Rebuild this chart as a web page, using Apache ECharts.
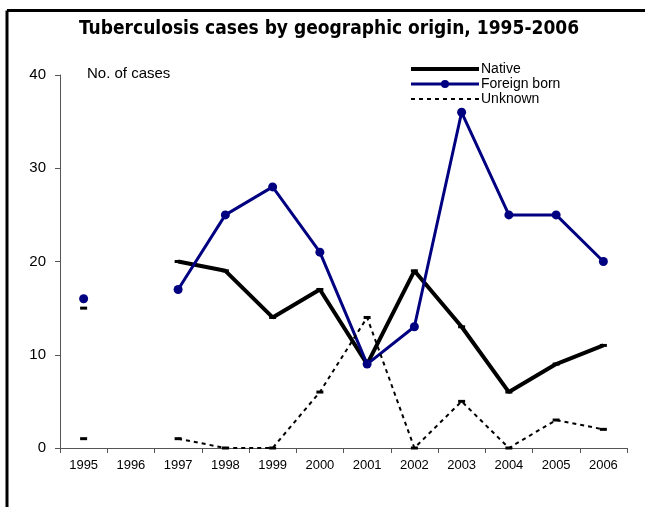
<!DOCTYPE html>
<html>
<head>
<meta charset="utf-8">
<script src="https://cdn.jsdelivr.net/npm/echarts@6/dist/echarts.min.js"></script>
<style>
  html, body { margin: 0; padding: 0; background: #fff; }
  #chart { width: 645px; height: 507px; }
</style>
</head>
<body>
<div id="chart"></div>
<script>
const years = ['1995', '1996', '1997', '1998', '1999', '2000', '2001', '2002', '2003', '2004', '2005', '2006']
const native = [15, null, 20, 19, 14, 17, 9, 19, 13, 6, 9, 11]
const foreignBorn = [16, null, 17, 25, 28, 21, 9, 13, 36, 25, 25, 20]
const unknown = [1, null, 1, 0, 0, 6, 14, 0, 5, 0, 3, 2]

const dash = 'path://M0,0 L6,0 L6,3 L0,3 Z'

var myChart = echarts.init(document.getElementById('chart'))
myChart.setOption({
  animation: false,
  title: {
    text: 'Tuberculosis cases by geographic origin, 1995-2006',
    left: 74,
    top: 15,
    textStyle: { fontFamily: 'DejaVu Sans Condensed', fontWeight: 'bold', fontSize: 19, color: '#000' },
  },
  graphic: [
    { type: 'line', shape: { x1: 7, y1: 10.5, x2: 645, y2: 10.5 }, style: { stroke: '#000', lineWidth: 3 } },
    { type: 'line', shape: { x1: 7, y1: 10.5, x2: 7, y2: 507 }, style: { stroke: '#000', lineWidth: 3 } },
    { type: 'text', left: 87, top: 66, style: { text: 'No. of cases', font: '15px "Liberation Sans"', fill: '#000' } },
  ],
  grid: { left: 60, right: 18, top: 75, bottom: 59 },
  legend: {
    orient: 'vertical',
    left: 404,
    top: 57,
    itemWidth: 68,
    itemHeight: 10,
    itemGap: 1,
    textStyle: { fontFamily: 'Liberation Sans', fontSize: 14, lineHeight: 14, color: '#000', padding: [0, 0, 0, -3] },
    data: [
      { name: 'Native', itemStyle: { opacity: 0 }, lineStyle: { width: 4 } },
      { name: 'Foreign born', lineStyle: { width: 3 } },
      { name: 'Unknown', itemStyle: { opacity: 0 }, lineStyle: { width: 2, type: [4, 4] } },
    ],
  },
  xAxis: {
    type: 'category',
    data: years,
    boundaryGap: true,
    axisLine: { lineStyle: { color: '#555', width: 1 } },
    axisTick: { show: true, length: 5, lineStyle: { color: '#555' } },
    axisLabel: { color: '#000', fontFamily: 'Liberation Sans', fontSize: 13, margin: 11 },
    splitLine: { show: false },
  },
  yAxis: {
    type: 'value',
    min: 0,
    max: 40,
    interval: 10,
    axisLine: { show: true, lineStyle: { color: '#555', width: 1 } },
    axisTick: { show: true, length: 5, lineStyle: { color: '#555' } },
    axisLabel: { color: '#000', fontFamily: 'Liberation Sans', fontSize: 15, margin: 14 },
    splitLine: { show: false },
  },
  series: [
    {
      name: 'Native', type: 'line', data: native, connectNulls: false,
      lineStyle: { color: '#000', width: 4 },
      itemStyle: { color: '#000' },
      symbol: dash, symbolSize: [7, 3], showAllSymbol: true,
    },
    {
      name: 'Foreign born', type: 'line', data: foreignBorn, connectNulls: false,
      lineStyle: { color: '#000080', width: 3 },
      itemStyle: { color: '#000080' },
      symbol: 'circle', symbolSize: 9, showAllSymbol: true,
    },
    {
      name: 'Unknown', type: 'line', data: unknown, connectNulls: false,
      lineStyle: { color: '#000', width: 2, type: [4, 4] },
      itemStyle: { color: '#000' },
      symbol: dash, symbolSize: [7, 3], showAllSymbol: true,
    },
  ],
})
</script>
</body>
</html>
